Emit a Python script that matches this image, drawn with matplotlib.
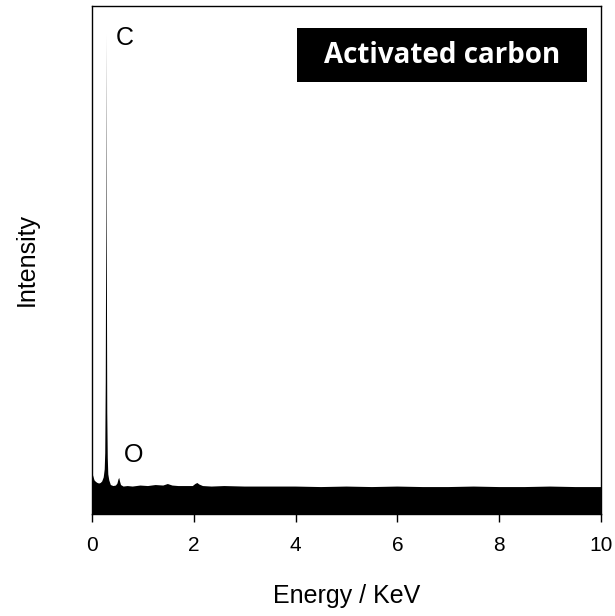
import numpy as np
import matplotlib
matplotlib.use('Agg')
import matplotlib.pyplot as plt
import matplotlib.patches as mpatches

# EDS spectrum of activated carbon (intensity in arbitrary units)
energy = [0.00, 0.02, 0.05, 0.08, 0.11, 0.14, 0.17, 0.20, 0.23, 0.25, 0.26, 0.27,
          0.28, 0.285, 0.29, 0.30, 0.31, 0.32, 0.34, 0.37, 0.42, 0.47, 0.50, 0.52, 0.535,
          0.55, 0.57, 0.62, 0.70, 0.80, 0.95, 1.10, 1.25, 1.40, 1.49, 1.58, 1.70,
          1.85, 1.98, 2.03, 2.07, 2.11, 2.18, 2.35, 2.60, 3.00, 3.50, 4.00, 4.50,
          5.00, 5.50, 6.00, 6.50, 7.00, 7.50, 8.00, 8.50, 9.00, 9.50, 10.00]
intensity = [82, 76, 66, 63, 61, 60, 61, 64, 72, 88, 120, 260,
             600, 945, 560, 200, 110, 78, 66, 57, 55, 56, 60, 68, 71,
             64, 57, 54, 55, 54, 56, 55, 57, 56, 59, 56, 55,
             55, 55, 59, 61, 58, 55, 54, 55, 54, 54, 54, 53,
             54, 53, 54, 53, 53, 54, 53, 53, 54, 53, 53]

peaks = ['C', 'O']
peak_pos = [(0.47, 937), (0.63, 116)]
x_ticks = [0, 2, 4, 6, 8, 10]

plt.rcParams['font.family'] = ['Liberation Sans', 'DejaVu Sans']

fig = plt.figure(figsize=(6.15, 6.16), dpi=100)
ax = fig.add_axes([0.1496, 0.1656, 0.8276, 0.8247])

ax.fill_between(energy, 0, intensity, facecolor='black', edgecolor='none', linewidth=0)

ax.set_xlim(0, 10)
ax.set_ylim(0, 1000)
ax.set_xticks(x_ticks)
ax.set_yticks([])
ax.tick_params(axis='x', direction='out', length=6, width=1, labelsize=15, pad=10)
for s in ax.spines.values():
    s.set_linewidth(1)

for name, (px, py) in zip(peaks, peak_pos):
    ax.text(px, py, name, fontsize=18, ha='left', va='center')

# title box
ax.add_patch(mpatches.Rectangle((0.403, 0.850), 0.5695, 0.107, transform=ax.transAxes,
                                facecolor='black', edgecolor='none'))
ax.text(0.688, 0.903, 'Activated carbon', transform=ax.transAxes, color='white',
        fontsize=20, fontweight='bold', ha='center', va='center', family=['Open Sans', 'DejaVu Sans'])

ax.set_xlabel('Energy / KeV', fontsize=18)
ax.set_ylabel('Intensity', fontsize=18)
ax.xaxis.set_label_coords(0.5, -0.138)
ax.yaxis.set_label_coords(-0.105, 0.5)

plt.savefig('out.png', dpi=100)
